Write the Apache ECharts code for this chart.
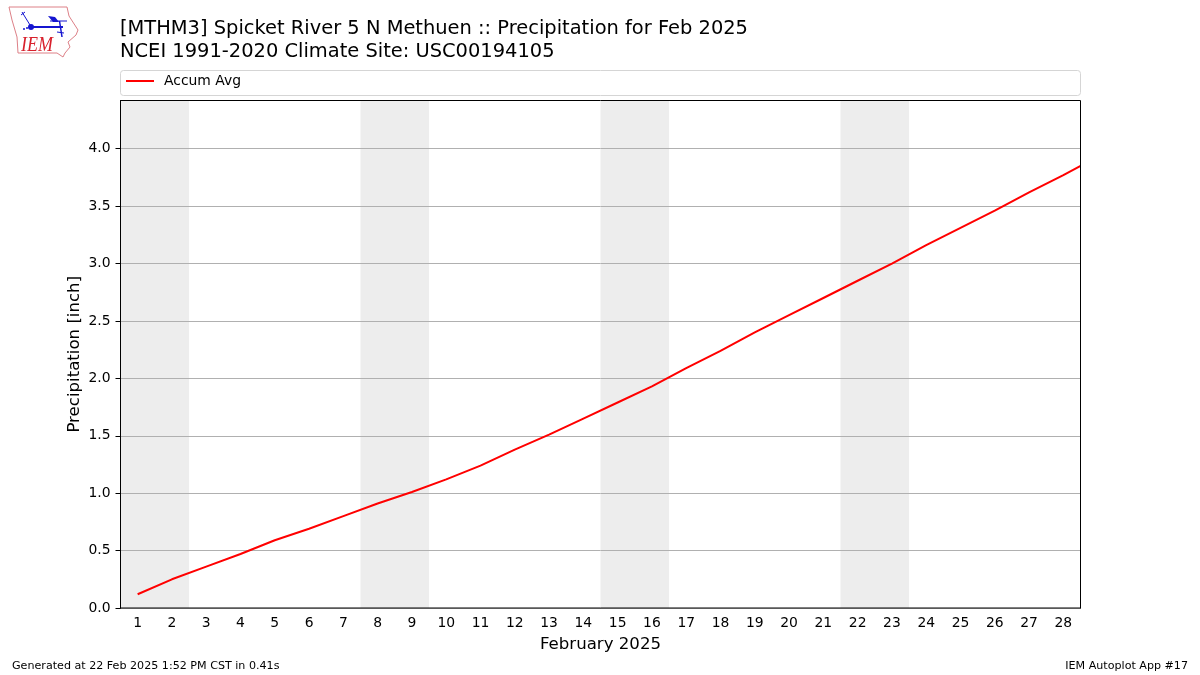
<!DOCTYPE html>
<html>
<head>
<meta charset="utf-8">
<style>
  html, body { margin: 0; padding: 0; background: #fff; }
  #chart { width: 1200px; height: 675px; }
</style>
<script src="https://cdn.jsdelivr.net/npm/echarts@6/dist/echarts.min.js"></script>
</head>
<body>
<div id="chart"></div>
<script>
// the line runs off the right edge, so day 29 is kept and gets clipped
const days = [1, 2, 3, 4, 5, 6, 7, 8, 9, 10, 11, 12, 13, 14, 15, 16, 17, 18, 19, 20, 21, 22, 23, 24, 25, 26, 27, 28, 29];
const accumAvg = [0.12, 0.25, 0.36, 0.47, 0.59, 0.69, 0.80, 0.91, 1.01, 1.12, 1.24, 1.38, 1.51, 1.65, 1.79, 1.93, 2.09, 2.24, 2.40, 2.55, 2.70, 2.85, 3.00, 3.16, 3.31, 3.46, 3.62, 3.77, 3.93];
const dayLabels = ['1', '2', '3', '4', '5', '6', '7', '8', '9', '10', '11', '12', '13', '14', '15', '16', '17', '18', '19', '20', '21', '22', '23', '24', '25', '26', '27', '28'];
const yTicks = [0, 0.5, 1, 1.5, 2, 2.5, 3, 3.5, 4];
const weekends = [[0.5, 2.5], [7.5, 9.5], [14.5, 16.5], [21.5, 23.5]];

const FONT = '"DejaVu Sans", sans-serif';

const chart = echarts.init(document.getElementById('chart'), null, { renderer: 'canvas' });

const BLUE = '#1515d0';
const logo = [
  { type: 'polyline', shape: { points: [[9, 7], [67, 7], [69, 16], [78, 30], [76, 35], [68, 42], [70, 47], [65, 53], [63, 57], [57, 53], [18, 53], [17, 37], [12, 20], [9, 7]] },
    style: { stroke: '#dd8087', fill: 'none', lineWidth: 1 } },
  { type: 'line', shape: { x1: 32, y1: 27, x2: 63, y2: 27 }, style: { stroke: BLUE, lineWidth: 2 } },
  { type: 'line', shape: { x1: 22, y1: 12, x2: 30, y2: 25 }, style: { stroke: BLUE, lineWidth: 1 } },
  { type: 'line', shape: { x1: 21, y1: 15, x2: 25, y2: 12 }, style: { stroke: BLUE, lineWidth: 1 } },
  { type: 'line', shape: { x1: 50, y1: 21, x2: 67, y2: 21 }, style: { stroke: BLUE, lineWidth: 1 } },
  { type: 'line', shape: { x1: 59.5, y1: 21, x2: 62, y2: 37 }, style: { stroke: BLUE, lineWidth: 1.5 } },
  { type: 'line', shape: { x1: 57, y1: 32, x2: 64, y2: 33 }, style: { stroke: BLUE, lineWidth: 1 } },
  { type: 'polygon', shape: { points: [[48, 16], [55, 17], [59, 22], [53, 22]] }, style: { fill: BLUE } },
  { type: 'circle', shape: { cx: 31, cy: 27, r: 3 }, style: { fill: BLUE } },
  { type: 'circle', shape: { cx: 24, cy: 29, r: 1 }, style: { fill: BLUE } },
  { type: 'circle', shape: { cx: 27, cy: 28, r: 1 }, style: { fill: BLUE } },
  { type: 'text', x: 21, y: 35, scaleY: 1.2, style: { text: 'IEM', fill: '#d8202c', font: 'italic 18px "Liberation Serif", serif' } }
];

const option = {
  animation: false,
  backgroundColor: '#fff',
  textStyle: { fontFamily: FONT, color: '#000' },
  title: [
    {
      text: '[MTHM3] Spicket River 5 N Methuen :: Precipitation for Feb 2025\nNCEI 1991-2020 Climate Site: USC00194105',
      left: 120, top: 18, padding: 0,
      textStyle: { fontFamily: FONT, fontSize: 19.46, fontWeight: 'normal', lineHeight: 22.5, color: '#000' }
    },
    {
      text: 'Generated at 22 Feb 2025 1:52 PM CST in 0.41s',
      left: 12, top: 661, padding: 0,
      textStyle: { fontFamily: FONT, fontSize: 11.12, fontWeight: 'normal', color: '#000' }
    },
    {
      text: 'IEM Autoplot App #17',
      right: 12, top: 661, padding: 0,
      textStyle: { fontFamily: FONT, fontSize: 11.12, fontWeight: 'normal', color: '#000' }
    }
  ],
  legend: {
    data: [{ name: 'Accum Avg', icon: 'path://M0,0H28V2H0Z' }],
    left: 126, top: 74, padding: 0,
    itemWidth: 28, itemHeight: 2,
    textStyle: { fontFamily: FONT, fontSize: 13.9, color: '#000', padding: [2, 0, 0, 5] }
  },
  grid: {
    left: 120.5, top: 100.5, width: 960, height: 507.5,
    show: true, borderColor: '#000', borderWidth: 1, backgroundColor: 'transparent', z: 3
  },
  xAxis: [
    {
      type: 'category',
      data: dayLabels,
      boundaryGap: true,
      name: 'February 2025',
      nameLocation: 'middle',
      nameGap: 28,
      nameTextStyle: { fontFamily: FONT, fontSize: 16.6, color: '#000' },
      axisLine: { lineStyle: { color: '#000', width: 1 } },
      axisTick: { alignWithLabel: true, length: 5, lineStyle: { color: '#000', width: 1 } },
      axisLabel: { interval: 0, margin: 8, fontFamily: FONT, fontSize: 13.9, color: '#000' },
      splitLine: { show: false }
    },
    { type: 'value', min: 0.5, max: 28.5, show: false, splitLine: { show: false } }
  ],
  yAxis: {
    type: 'value',
    min: 0,
    max: 4.42,
    z: 1.5,
    name: 'Precipitation [inch]',
    nameLocation: 'middle',
    nameGap: 37.5,
    nameMoveOverlap: false,
    nameTextStyle: { fontFamily: FONT, fontSize: 16.6, color: '#000' },
    axisLine: { show: true, lineStyle: { color: '#000', width: 1 } },
    axisTick: { show: true, length: 5, customValues: yTicks, lineStyle: { color: '#000', width: 1 } },
    axisLabel: {
      margin: 10, lineHeight: 16, fontFamily: FONT, fontSize: 13.9, color: '#000',
      customValues: yTicks,
      formatter: v => v.toFixed(1)
    },
    splitLine: { show: true, lineStyle: { color: '#b0b0b0', width: 1 } }
  },
  series: [
    {
      name: 'weekends',
      type: 'line',
      xAxisIndex: 1,
      data: [],
      z: 1,
      silent: true,
      markArea: {
        silent: true,
        itemStyle: { color: '#ededed' },
        data: weekends.map(w => [{ xAxis: w[0] }, { xAxis: w[1] }])
      }
    },
    {
      name: 'Accum Avg',
      type: 'line',
      xAxisIndex: 1,
      z: 2,
      data: days.map((d, i) => [d, accumAvg[i]]),
      symbol: 'none',
      clip: true,
      color: '#ff0000',
      lineStyle: { color: '#ff0000', width: 2 }
    }
  ],
  graphic: [
    {
      type: 'rect',
      shape: { x: 120.5, y: 70.5, width: 960, height: 25, r: 3 },
      style: { fill: '#fff', stroke: '#d5d5d5', lineWidth: 1 },
      z: -1
    },
    // the clip area is a little wider than the frame, mask the line's overhang
    { type: 'rect', shape: { x: 1081, y: 140, width: 4, height: 40 }, style: { fill: '#fff' }, z: 100 },
    { type: 'group', children: logo }
  ]
};

chart.setOption(option);
window.addEventListener('resize', () => chart.resize());
</script>
</body>
</html>
